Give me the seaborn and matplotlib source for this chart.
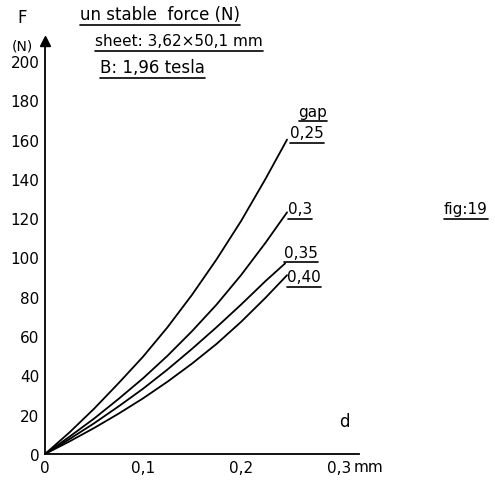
import numpy as np
import pandas as pd
import matplotlib
matplotlib.use("Agg")
import matplotlib.pyplot as plt
import seaborn as sns
from matplotlib.lines import Line2D

# displacement d (mm) and unstable force F (N)
d_025 = [0, 0.025, 0.05, 0.075, 0.1, 0.125, 0.15, 0.175, 0.2, 0.225, 0.247]
F_025 = [0, 11, 23, 36, 49.5, 64.5, 81, 99, 118.5, 140, 160]
d_030 = [0, 0.025, 0.05, 0.075, 0.1, 0.125, 0.15, 0.175, 0.2, 0.225, 0.247]
F_030 = [0, 8.8, 18, 28, 38.5, 50, 62.5, 76, 91, 107.5, 123]
d_035 = [0, 0.025, 0.05, 0.075, 0.1, 0.125, 0.15, 0.175, 0.2, 0.225, 0.245]
F_035 = [0, 7.6, 15.6, 24.2, 33.2, 43, 53.5, 64.5, 76, 88, 97]
d_040 = [0, 0.025, 0.05, 0.075, 0.1, 0.125, 0.15, 0.175, 0.2, 0.225, 0.247]
F_040 = [0, 6.4, 13.2, 20.5, 28.3, 36.8, 46, 56, 67.2, 79.5, 91]
gaps = ["0,25", "0,3", "0,35", "0,40"]

y_ticks = [0, 20, 40, 60, 80, 100, 120, 140, 160, 180, 200]
x_ticks = [0, 0.1, 0.2, 0.3]
x_ticklabels = ["0", "0,1", "0,2", "0,3"]

frames = []
for g, d, F in zip(gaps, [d_025, d_030, d_035, d_040], [F_025, F_030, F_035, F_040]):
    frames.append(pd.DataFrame({"d": d, "F": F, "gap": g}))
df = pd.concat(frames, ignore_index=True)

sns.set_style("white")
plt.rcParams["font.family"] = ["DejaVu Sans"]
plt.rcParams["text.color"] = "black"
plt.rcParams["xtick.color"] = "black"
plt.rcParams["ytick.color"] = "black"

W, H = 495, 489
fig = plt.figure(figsize=(W / 100, H / 100), dpi=100)

# axes placed so that origin sits at pixel (45, 455)
x0, y0 = 45, 455
px_x = 980.0   # px per mm
px_y = 1.965   # px per N
xmax, ymax = 0.32, 210
ax = fig.add_axes([x0 / W, (H - y0) / H, xmax * px_x / W, ymax * px_y / H])

sns.lineplot(data=df, x="d", y="F", hue="gap", palette=["black"] * 4,
             linewidth=1.3, legend=False, ax=ax, sort=False)

ax.set_xlim(0, xmax)
ax.set_ylim(0, ymax)
ax.set_xticks(x_ticks)
ax.set_xticklabels(x_ticklabels)
ax.set_yticks(y_ticks)
ax.set_yticklabels([str(v) for v in y_ticks])
ax.tick_params(length=0, labelsize=11, pad=4, colors="black")
ax.set_xlabel("")
ax.set_ylabel("")
for s in ["top", "right"]:
    ax.spines[s].set_visible(False)
for s in ["left", "bottom"]:
    ax.spines[s].set_color("black")
    ax.spines[s].set_linewidth(1.3)
ax.plot(0, 1, marker="^", color="black", markersize=7,
        transform=ax.transAxes, clip_on=False)


def ftext(x, y, s, underline=False, ha="left", size=11):
    t = fig.text(x / W, 1 - y / H, s, ha=ha, va="center", fontsize=size,
                 color="black")
    if underline:
        fig.canvas.draw()
        bb = t.get_window_extent()
        yy = (bb.y0 - 2) / H
        fig.add_artist(Line2D([bb.x0 / W, bb.x1 / W], [yy, yy],
                              color="black", linewidth=1.2))
    return t


ftext(22, 18, "F", ha="center", size=12)
ftext(22, 46, "(N)", ha="center", size=10)
ftext(80, 15, "un stable  force (N)", underline=True, size=12)
ftext(95, 42, "sheet: 3,62×50,1 mm", underline=True)
ftext(100, 68, "B: 1,96 tesla", underline=True, size=12)

ftext(313, 112, "gap", ha="center", underline=True)
ftext(307, 134, gaps[0], ha="center", underline=True)
ftext(300, 210, gaps[1], ha="center", underline=True)
ftext(301, 253, gaps[2], ha="center", underline=True)
ftext(304, 278, gaps[3], ha="center", underline=True)

ftext(466, 210, "fig:19", ha="center", underline=True)
ftext(344, 422, "d", ha="center", size=12)
ftext(354, 468, "mm")

fig.savefig("out.png", dpi=100)
